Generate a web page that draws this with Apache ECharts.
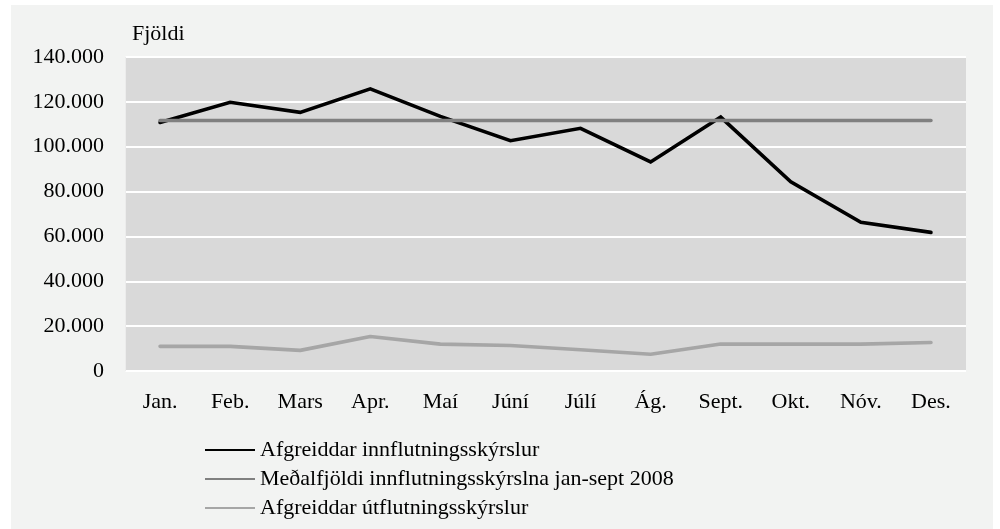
<!DOCTYPE html>
<html>
<head>
<meta charset="utf-8">
<script src="https://cdn.jsdelivr.net/npm/echarts@6/dist/echarts.min.js"></script>
<style>
html,body{margin:0;padding:0;background:#ffffff;}
#bg{position:absolute;left:11px;top:5px;width:982px;height:524px;background:#f2f3f2;}
#chart{position:absolute;left:0;top:0;width:1000px;height:529px;}
</style>
</head>
<body>
<div id="bg"></div>
<div id="chart"></div>
<script>
const categories = ['Jan.','Feb.','Mars','Apr.','Maí','Júní','Júlí','Ág.','Sept.','Okt.','Nóv.','Des.'];
const innflutningur = [110800, 119800, 115300, 125800, 113500, 102700, 108200, 93200, 113200, 84400, 66300, 61800];
const medaltal = [111700, 111700, 111700, 111700, 111700, 111700, 111700, 111700, 111700, 111700, 111700, 111700];
const utflutningur = [11000, 11000, 9200, 15400, 12000, 11400, 9500, 7500, 12000, 12000, 12000, 12700];
const seriesNames = ['Afgreiddar innflutningsskýrslur','Meðalfjöldi innflutningsskýrslna jan-sept 2008','Afgreiddar útflutningsskýrslur'];
const yTitle = 'Fjöldi';

const FONT = '"Liberation Serif", "Times New Roman", serif';
const chart = echarts.init(document.getElementById('chart'), null, {renderer:'canvas'});
chart.setOption({
  backgroundColor: 'transparent',
  animation: false,
  textStyle: {fontFamily: FONT},
  title: {
    text: yTitle, left: 127, top: 18,
    textStyle: {fontFamily: FONT, fontSize: 22, fontWeight: 'normal', color: '#000'}
  },
  grid: {left: 125, right: 34, top: 57, bottom: 158, show: true, backgroundColor: '#d9d9d9', borderWidth: 0},
  legend: {
    orient: 'vertical', left: 205, top: 439, padding: 0,
    icon: 'rect', itemWidth: 50, itemHeight: 2, itemGap: 7, itemTextGap: 10,
    data: seriesNames,
    textStyle: {fontFamily: FONT, fontSize: 22, color: '#000'}
  },
  xAxis: {
    type: 'category', data: categories, boundaryGap: true,
    axisLine: {show: false}, axisTick: {show: false},
    axisLabel: {margin: 20, fontFamily: FONT, fontSize: 22, color: '#000'}
  },
  yAxis: {
    type: 'value', min: 0, max: 140000, interval: 20000,
    axisLine: {show: true, lineStyle: {color: '#ececec', width: 1}},
    axisTick: {show: false},
    splitLine: {lineStyle: {color: '#ffffff', width: 2}},
    axisLabel: {margin: 21, fontFamily: FONT, fontSize: 22, color: '#000',
      formatter: v => String(v).replace(/\B(?=(\d{3})+(?!\d))/g, '.')}
  },
  series: [
    {name: seriesNames[0], type: 'line', data: innflutningur, symbol: 'none', color: '#000000',
     lineStyle: {width: 3.6, color: '#000000', cap: 'round', join: 'miter'}},
    {name: seriesNames[1], type: 'line', data: medaltal, symbol: 'none', color: '#808080',
     lineStyle: {width: 3.6, color: '#808080', cap: 'round'}},
    {name: seriesNames[2], type: 'line', data: utflutningur, symbol: 'none', color: '#a6a6a6',
     lineStyle: {width: 3.6, color: '#a6a6a6', cap: 'round'}}
  ]
});
</script>
</body>
</html>
